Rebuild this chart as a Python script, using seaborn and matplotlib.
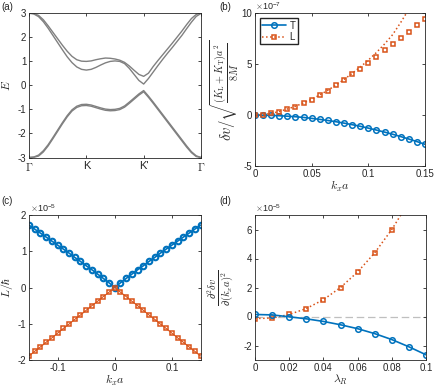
import numpy as np
import matplotlib
matplotlib.use('Agg')
import matplotlib.pyplot as plt
import seaborn as sns
from matplotlib.lines import Line2D

# ---- (a) band structure along Gamma-K-K'-Gamma (path position, 12 steps per segment)
path_x = np.arange(37) / 12
band_up1 = [3.0, 2.98, 2.9, 2.72, 2.47, 2.2, 1.93, 1.66, 1.41, 1.2, 1.06, 1.0, 0.99,
            1.01, 1.06, 1.1, 1.13, 1.12, 1.09, 1.04, 0.95, 0.8, 0.62, 0.45, 0.37,
            0.5, 0.78, 1.03, 1.27, 1.51, 1.75, 2.0, 2.25, 2.52, 2.77, 2.94, 3.0]
band_up2 = [2.99, 2.96, 2.85, 2.64, 2.37, 2.07, 1.77, 1.47, 1.18, 0.94, 0.76, 0.66, 0.63,
            0.66, 0.74, 0.84, 0.93, 0.99, 1.01, 0.99, 0.9, 0.7, 0.45, 0.2, 0.05,
            0.28, 0.55, 0.82, 1.08, 1.33, 1.57, 1.82, 2.07, 2.35, 2.62, 2.86, 2.98]
band_lo1 = [-3.0, -2.98, -2.9, -2.72, -2.47, -2.17, -1.86, -1.55, -1.26, -1.02, -0.87, -0.8, -0.79,
            -0.82, -0.88, -0.94, -0.99, -1.01, -1.0, -0.96, -0.86, -0.7, -0.53, -0.36, -0.22,
            -0.45, -0.7, -0.96, -1.22, -1.48, -1.74, -2.0, -2.26, -2.52, -2.76, -2.93, -3.0]
band_lo2 = [-3.0, -2.99, -2.94, -2.77, -2.52, -2.22, -1.91, -1.6, -1.31, -1.07, -0.92, -0.85, -0.84,
            -0.87, -0.93, -0.99, -1.04, -1.06, -1.05, -1.01, -0.91, -0.75, -0.58, -0.41, -0.27,
            -0.5, -0.75, -1.01, -1.27, -1.53, -1.79, -2.05, -2.31, -2.57, -2.8, -2.96, -3.0]
path_ticks = [0, 1, 2, 3]
path_labels = [r'$\Gamma$', 'K', "K'", r'$\Gamma$']

# ---- (b) velocity shift (units of 1e-7)
k_b = np.linspace(0, 0.15, 22)
dv_T = [0, -0.01, -0.03, -0.06, -0.11, -0.16, -0.23, -0.32, -0.42, -0.53, -0.65,
        -0.79, -0.94, -1.10, -1.28, -1.47, -1.67, -1.88, -2.11, -2.35, -2.60, -2.87]
dv_L = [0.0, 0.05, 0.18, 0.34, 0.58, 0.82, 1.19, 1.53, 1.97, 2.41, 2.93,
        3.44, 4.01, 4.56, 5.14, 5.75, 6.36, 6.97, 7.59, 8.2, 8.81, 9.42]
dv_L_fit = [0, 0.04, 0.17, 0.35, 0.6, 0.86, 1.2, 1.56, 1.98, 2.44, 2.95,
            3.5, 4.1, 4.72, 5.4, 6.15, 6.98, 7.9, 9.1, 10.4, 11.8]

# ---- (c) angular momentum (units of 1e-5)
k_c = np.linspace(-0.15, 0.15, 31)
L_T = [1.72, 1.61, 1.50, 1.39, 1.28, 1.17, 1.06, 0.95, 0.83, 0.72, 0.6, 0.49, 0.37, 0.25, 0.13, 0,
       0.13, 0.25, 0.37, 0.49, 0.6, 0.72, 0.83, 0.95, 1.06, 1.17, 1.28, 1.39, 1.50, 1.61, 1.72]
L_L = [-1.89, -1.76, -1.64, -1.51, -1.39, -1.26, -1.13, -1.01, -0.88, -0.76, -0.63, -0.5, -0.38, -0.25, -0.13, 0,
       -0.13, -0.25, -0.38, -0.5, -0.63, -0.76, -0.88, -1.01, -1.13, -1.26, -1.39, -1.51, -1.64, -1.76, -1.89]

# ---- (d) curvature vs lambda_R (units of 1e-5)
lam = [0, 0.01, 0.02, 0.03, 0.04, 0.05, 0.06, 0.07, 0.08, 0.09, 0.1]
curv_T = [0.14, 0.11, -0.02, -0.16, -0.34, -0.57, -0.84, -1.18, -1.59, -2.09, -2.64]
lam_L = [0, 0.01, 0.02, 0.03, 0.04, 0.05, 0.06, 0.07, 0.08]
curv_L = [-0.14, -0.11, 0.14, 0.55, 1.16, 2.0, 3.07, 4.39, 6.0]
lam_fit = [0, 0.01, 0.02, 0.03, 0.04, 0.05, 0.06, 0.07, 0.08, 0.09]
curv_L_fit = [-0.14, -0.11, 0.14, 0.55, 1.16, 2.0, 3.07, 4.39, 6.0, 7.9]

blue = '#0072BD'
orange = '#D95319'
dark = '#262626'

sns.set_theme(style='ticks')
plt.rcParams['font.family'] = ['Liberation Sans', 'DejaVu Sans']
plt.rcParams.update({
    'mathtext.fontset': 'cm',
    'axes.unicode_minus': False,
    'font.size': 7,
    'xtick.labelsize': 7, 'ytick.labelsize': 7,
    'xtick.direction': 'in', 'ytick.direction': 'in',
    'xtick.top': True, 'ytick.right': True,
    'xtick.major.size': 2.5, 'ytick.major.size': 2.5,
    'xtick.major.width': 0.6, 'ytick.major.width': 0.6,
    'xtick.color': dark, 'ytick.color': dark,
    'axes.edgecolor': dark, 'axes.linewidth': 0.6,
    'xtick.major.pad': 2.5, 'ytick.major.pad': 2,
})

W, H = 436, 388
fig = plt.figure(figsize=(W / 100, H / 100), dpi=100)

def px_axes(l, t, r, b):
    return fig.add_axes([l / W, 1 - b / H, (r - l) / W, (b - t) / H])

ax_a = px_axes(29, 13, 201, 157.5)
ax_b = px_axes(255, 13.3, 425, 166)
ax_c = px_axes(29, 215, 200.5, 360)
ax_d = px_axes(255, 215, 426, 360)

circ = dict(marker='o', ms=4.0, mfc='none', mec=blue, mew=1.1)
sq = dict(marker='s', ms=3.0, mfc='none', mec=orange, mew=1.1)

# (a)
for band in [band_up1, band_up2, band_lo1, band_lo2]:
    sns.lineplot(x=path_x, y=band, ax=ax_a, color='#808080', lw=1.0)
ax_a.set_xlim(0, 3)
ax_a.set_ylim(-3, 3)
ax_a.set_yticks(range(-3, 4))
ax_a.set_xticks(path_ticks)
ax_a.set_xticklabels(path_labels, fontsize=8)
ax_a.set_ylabel('$E$', fontsize=8.5)
ax_a.yaxis.set_label_coords(-0.093, 0.5)

# (b)
sns.lineplot(x=k_b, y=dv_T, ax=ax_b, color=blue, lw=1.2, **circ)
sns.lineplot(x=k_b[:len(dv_L_fit)], y=dv_L_fit, ax=ax_b, color=orange, lw=1.1, ls=':')
sns.lineplot(x=k_b, y=dv_L, ax=ax_b, color=orange, lw=0, **sq)
ax_b.set_xlim(0, 0.15)
ax_b.set_ylim(-5, 10)
ax_b.set_xticks([0, 0.05, 0.1, 0.15])
ax_b.set_xticklabels(['0', '0.05', '0.1', '0.15'])
ax_b.set_yticks([-5, 0, 5, 10])
ax_b.set_xlabel('$k_x a$', fontsize=8.5, labelpad=0)
ax_b.set_ylabel(r'$\delta v/\sqrt{\frac{(K_\mathrm{L}+K_\mathrm{T})a^2}{8M}}$', fontsize=10.5)
ax_b.yaxis.set_label_coords(-0.082, 0.5)
handles = [Line2D([], [], color=blue, lw=1.2, **circ),
           Line2D([], [], color=orange, lw=1.1, ls=':', **sq)]
ax_b.legend(handles, ['T', 'L'], loc='upper left', fontsize=7, frameon=True, fancybox=False,
            edgecolor=dark, framealpha=1, handlelength=2.4, borderpad=0.25,
            labelspacing=0.15, handletextpad=0.4, borderaxespad=0.5)

# (c)
sns.lineplot(x=k_c, y=L_T, ax=ax_c, color=blue, lw=1.2, **dict(circ, mew=1.5))
sns.lineplot(x=k_c, y=L_L, ax=ax_c, color=orange, lw=0.8, **sq)
ax_c.set_xlim(-0.15, 0.15)
ax_c.set_ylim(-2, 2)
ax_c.set_xticks([-0.1, 0, 0.1])
ax_c.set_xticklabels(['-0.1', '0', '0.1'])
ax_c.set_yticks([-2, -1, 0, 1, 2])
ax_c.set_xlabel('$k_x a$', fontsize=8.5, labelpad=0)
ax_c.set_ylabel(r'$L/\hbar$', fontsize=8.5)
ax_c.yaxis.set_label_coords(-0.08, 0.5)

# (d)
ax_d.axhline(0, color='#BFBFBF', lw=0.9, ls=(0, (6, 3)), zorder=0)
sns.lineplot(x=lam_fit, y=curv_L_fit, ax=ax_d, color=orange, lw=1.1, ls=':')
sns.lineplot(x=lam_L, y=curv_L, ax=ax_d, color=orange, lw=0, **sq)
sns.lineplot(x=lam, y=curv_T, ax=ax_d, color=blue, lw=1.2, **circ)
ax_d.set_xlim(0, 0.1)
ax_d.set_ylim(-3, 7)
ax_d.set_xticks([0, 0.02, 0.04, 0.06, 0.08, 0.1])
ax_d.set_xticklabels(['0', '0.02', '0.04', '0.06', '0.08', '0.1'])
ax_d.set_yticks([-2, 0, 2, 4, 6])
ax_d.set_xlabel(r'$\lambda_R$', fontsize=8.5, labelpad=0)
ax_d.set_ylabel(r'$\frac{\partial^2\delta v}{\partial(k_x a)^2}$', fontsize=11)
ax_d.yaxis.set_label_coords(-0.105, 0.5)

for ax in [ax_a, ax_b, ax_c, ax_d]:
    for s in ax.spines.values():
        s.set_visible(True)

# scale factors above the y axes
for x0, y0, p in [(255, 10, '-7'), (30, 212, '-5'), (255, 212, '-5')]:
    fig.text(x0 / W, 1 - y0 / H, r'$\times\mathregular{10^{%s}}$' % p, ha='left',
             va='baseline', fontsize=6.5, color=dark)

fig.text(1 / W, 1 - 2 / H, '(a)', ha='left', va='top', fontsize=7)
fig.text(219 / W, 1 - 2 / H, '(b)', ha='left', va='top', fontsize=7)
fig.text(1 / W, 1 - 196 / H, '(c)', ha='left', va='top', fontsize=7)
fig.text(219 / W, 1 - 196 / H, '(d)', ha='left', va='top', fontsize=7)

fig.savefig('out.png', dpi=100)
